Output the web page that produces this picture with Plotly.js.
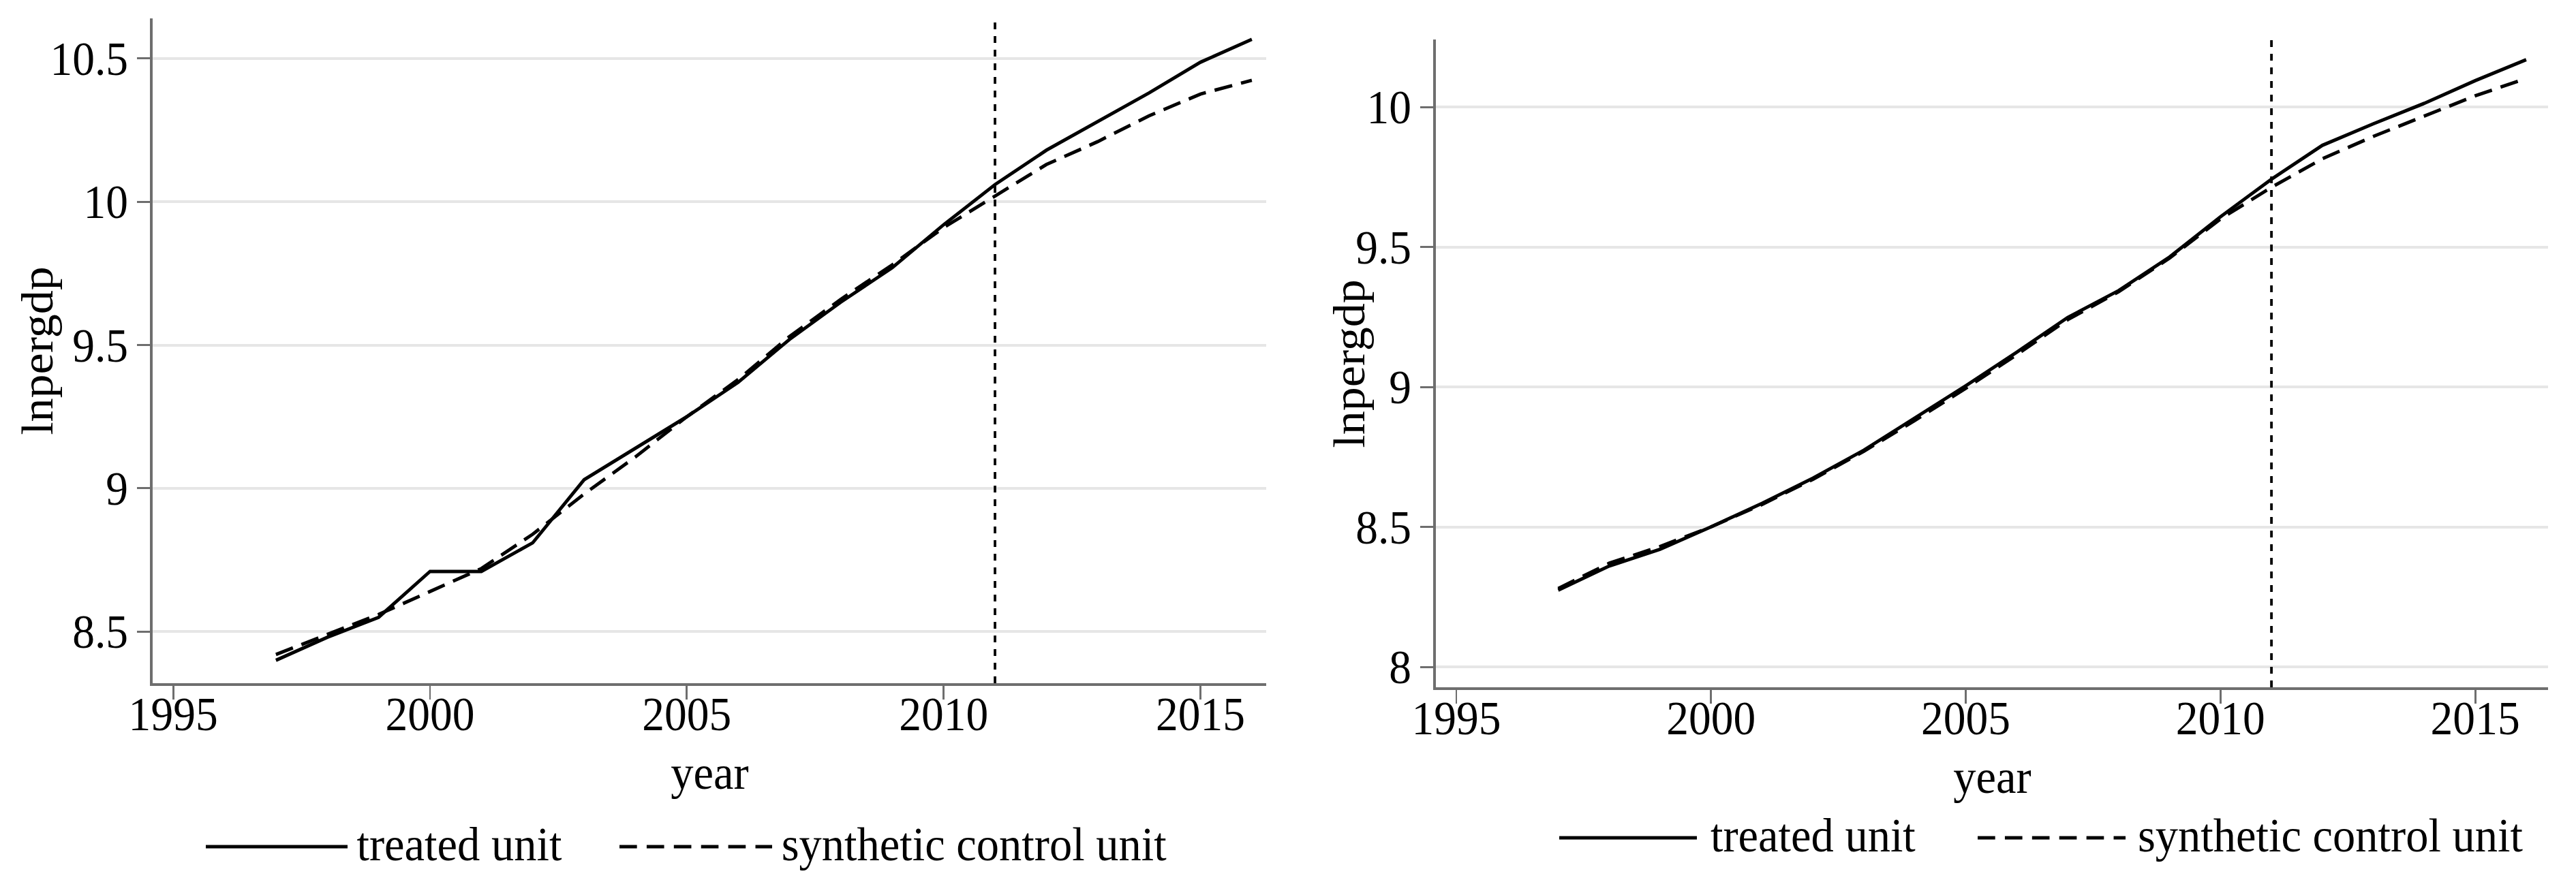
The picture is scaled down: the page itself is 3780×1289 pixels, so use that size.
<!DOCTYPE html>
<html>
<head>
<meta charset="utf-8">
<script src="https://cdn.plot.ly/plotly-3.0.1.min.js"></script>
<style>
  html, body { margin: 0; padding: 0; overflow: hidden; background: #fff; }
  #wrap { width: 3780px; height: 1289px; overflow: hidden; }
  #chart { width: 3979px; height: 1289px; transform: scaleX(0.95); transform-origin: 0 0; }
</style>
</head>
<body>
<div id="wrap"><div id="chart"></div></div>
<script>
// ---- data ----
const years = [1997,1998,1999,2000,2001,2002,2003,2004,2005,2006,2007,2008,2009,2010,2011,2012,2013,2014,2015,2016];

const leftTreated   = [8.40,8.48,8.55,8.71,8.71,8.81,9.03,9.14,9.25,9.37,9.52,9.65,9.77,9.92,10.06,10.18,10.28,10.38,10.487,10.567];
const leftSynthetic = [8.42,8.49,8.56,8.64,8.72,8.84,8.98,9.11,9.25,9.38,9.53,9.66,9.78,9.91,10.02,10.13,10.21,10.30,10.376,10.424];

const rightTreated   = [8.274,8.36,8.42,8.50,8.584,8.674,8.774,8.888,9.004,9.124,9.248,9.344,9.464,9.608,9.742,9.863,9.94,10.013,10.094,10.169];
const rightSynthetic = [8.28,8.37,8.43,8.50,8.58,8.67,8.77,8.88,8.995,9.115,9.24,9.34,9.46,9.60,9.713,9.815,9.895,9.968,10.04,10.102];

const treatmentYear = 2011;
const xTicks = [1995, 2000, 2005, 2010, 2015];
const leftYTicks  = [8.5, 9, 9.5, 10, 10.5];
const rightYTicks = [8, 8.5, 9, 9.5, 10];

const seriesNames = ['treated unit', 'synthetic control unit'];
const xTitle = 'year';
const yTitle = 'lnpergdp';

// ---- styling ----
const FONT = 'Liberation Serif';
const axisGrey = '#6e6e6e';
const gridGrey = '#e6e6e6';
const DASH = '28px,14px';
const H = 1289, W = 3780;
const px = v => v / W;
const py = v => 1 - v / H;

function xAxis(domain, range, anchor) {
  return {
    domain: domain, range: range, anchor: anchor,
    tickmode: 'array', tickvals: xTicks,
    ticks: 'outside', ticklen: 20, tickwidth: 3, tickcolor: axisGrey,
    ticklabelstandoff: -38,
    showline: true, linecolor: axisGrey, linewidth: 4,
    showgrid: false, zeroline: false,
    tickfont: {family: FONT, size: 69, color: '#000'},
    automargin: false, fixedrange: true
  };
}
function yAxis(domain, range, anchor, ticks) {
  return {
    domain: domain, range: range, anchor: anchor,
    tickmode: 'array', tickvals: ticks,
    ticks: 'outside', ticklen: 20, tickwidth: 3, tickcolor: axisGrey,
    showline: true, linecolor: axisGrey, linewidth: 4,
    showgrid: true, gridcolor: gridGrey, gridwidth: 4, zeroline: false,
    tickfont: {family: FONT, size: 69, color: '#000'},
    automargin: false, fixedrange: true
  };
}

const traces = [
  {x: years, y: leftTreated, xaxis: 'x', yaxis: 'y', name: seriesNames[0], mode: 'lines',
   line: {color: '#000', width: 5}},
  {x: years, y: leftSynthetic, xaxis: 'x', yaxis: 'y', name: seriesNames[1], mode: 'lines',
   line: {color: '#000', width: 5, dash: DASH}},
  {x: years, y: rightTreated, xaxis: 'x2', yaxis: 'y2', name: seriesNames[0], mode: 'lines',
   line: {color: '#000', width: 5}},
  {x: years, y: rightSynthetic, xaxis: 'x2', yaxis: 'y2', name: seriesNames[1], mode: 'lines',
   line: {color: '#000', width: 5, dash: DASH}}
];

// manual legends (long line samples like the reference)
const legends = [
  {solid: [302, 510], solidText: 522, dashed: [909, 1133], dashedText: 1145, y: 1243},
  {solid: [2288, 2490], solidText: 2508, dashed: [2902, 3119], dashedText: 3135, y: 1230}
];

const shapes = [
  {type: 'line', xref: 'x', yref: 'y domain', x0: treatmentYear, x1: treatmentYear, y0: 0, y1: 1,
   line: {color: '#000', width: 4, dash: '10px,10px'}},
  {type: 'line', xref: 'x2', yref: 'y2 domain', x0: treatmentYear, x1: treatmentYear, y0: 0, y1: 1,
   line: {color: '#000', width: 4, dash: '10px,10px'}}
];
const txtFont = {family: FONT, size: 70, color: '#000'};
const annotations = [
  // axis titles
  {xref: 'x domain', yref: 'paper', x: 0.5, y: py(1134), xanchor: 'center', yanchor: 'middle',
   showarrow: false, text: xTitle, font: txtFont},
  {xref: 'x2 domain', yref: 'paper', x: 0.5, y: py(1140), xanchor: 'center', yanchor: 'middle',
   showarrow: false, text: xTitle, font: txtFont},
  {xref: 'paper', yref: 'y domain', x: px(54), y: 0.5, xanchor: 'center', yanchor: 'middle',
   textangle: -90, showarrow: false, text: yTitle, font: txtFont},
  {xref: 'paper', yref: 'y2 domain', x: px(1980), y: 0.5, xanchor: 'center', yanchor: 'middle',
   textangle: -90, showarrow: false, text: yTitle, font: txtFont}
];
legends.forEach(L => {
  shapes.push({type: 'line', xref: 'paper', yref: 'paper', x0: px(L.solid[0]), x1: px(L.solid[1]),
    y0: py(L.y), y1: py(L.y), line: {color: '#000', width: 5}});
  shapes.push({type: 'line', xref: 'paper', yref: 'paper', x0: px(L.dashed[0]), x1: px(L.dashed[1]),
    y0: py(L.y), y1: py(L.y), line: {color: '#000', width: 5, dash: '27px,15px'}});
  annotations.push({xref: 'paper', yref: 'paper', x: px(L.solidText), y: py(L.y - 4),
    xanchor: 'left', yanchor: 'middle', showarrow: false, text: seriesNames[0], font: txtFont});
  annotations.push({xref: 'paper', yref: 'paper', x: px(L.dashedText), y: py(L.y - 4),
    xanchor: 'left', yanchor: 'middle', showarrow: false, text: seriesNames[1], font: txtFont});
});

const layout = {
  width: 3979, height: H,
  margin: {l: 0, r: 0, t: 0, b: 0, pad: 0},
  paper_bgcolor: '#fff', plot_bgcolor: '#fff',
  showlegend: false,
  font: {family: FONT, color: '#000'},
  xaxis:  xAxis([px(224), px(1858)], [1994.6, 2016.28], 'y'),
  yaxis:  yAxis([1 - 1003 / H, 1 - 27 / H], [8.32, 10.64], 'x', leftYTicks),
  xaxis2: xAxis([px(2107), px(3739)], [1994.6, 2016.43], 'y2'),
  yaxis2: yAxis([1 - 1009 / H, 1 - 58 / H], [7.927, 10.241], 'x2', rightYTicks),
  shapes: shapes,
  annotations: annotations
};

Plotly.newPlot('chart', traces, layout, {staticPlot: true, displayModeBar: false});
</script>
</body>
</html>
